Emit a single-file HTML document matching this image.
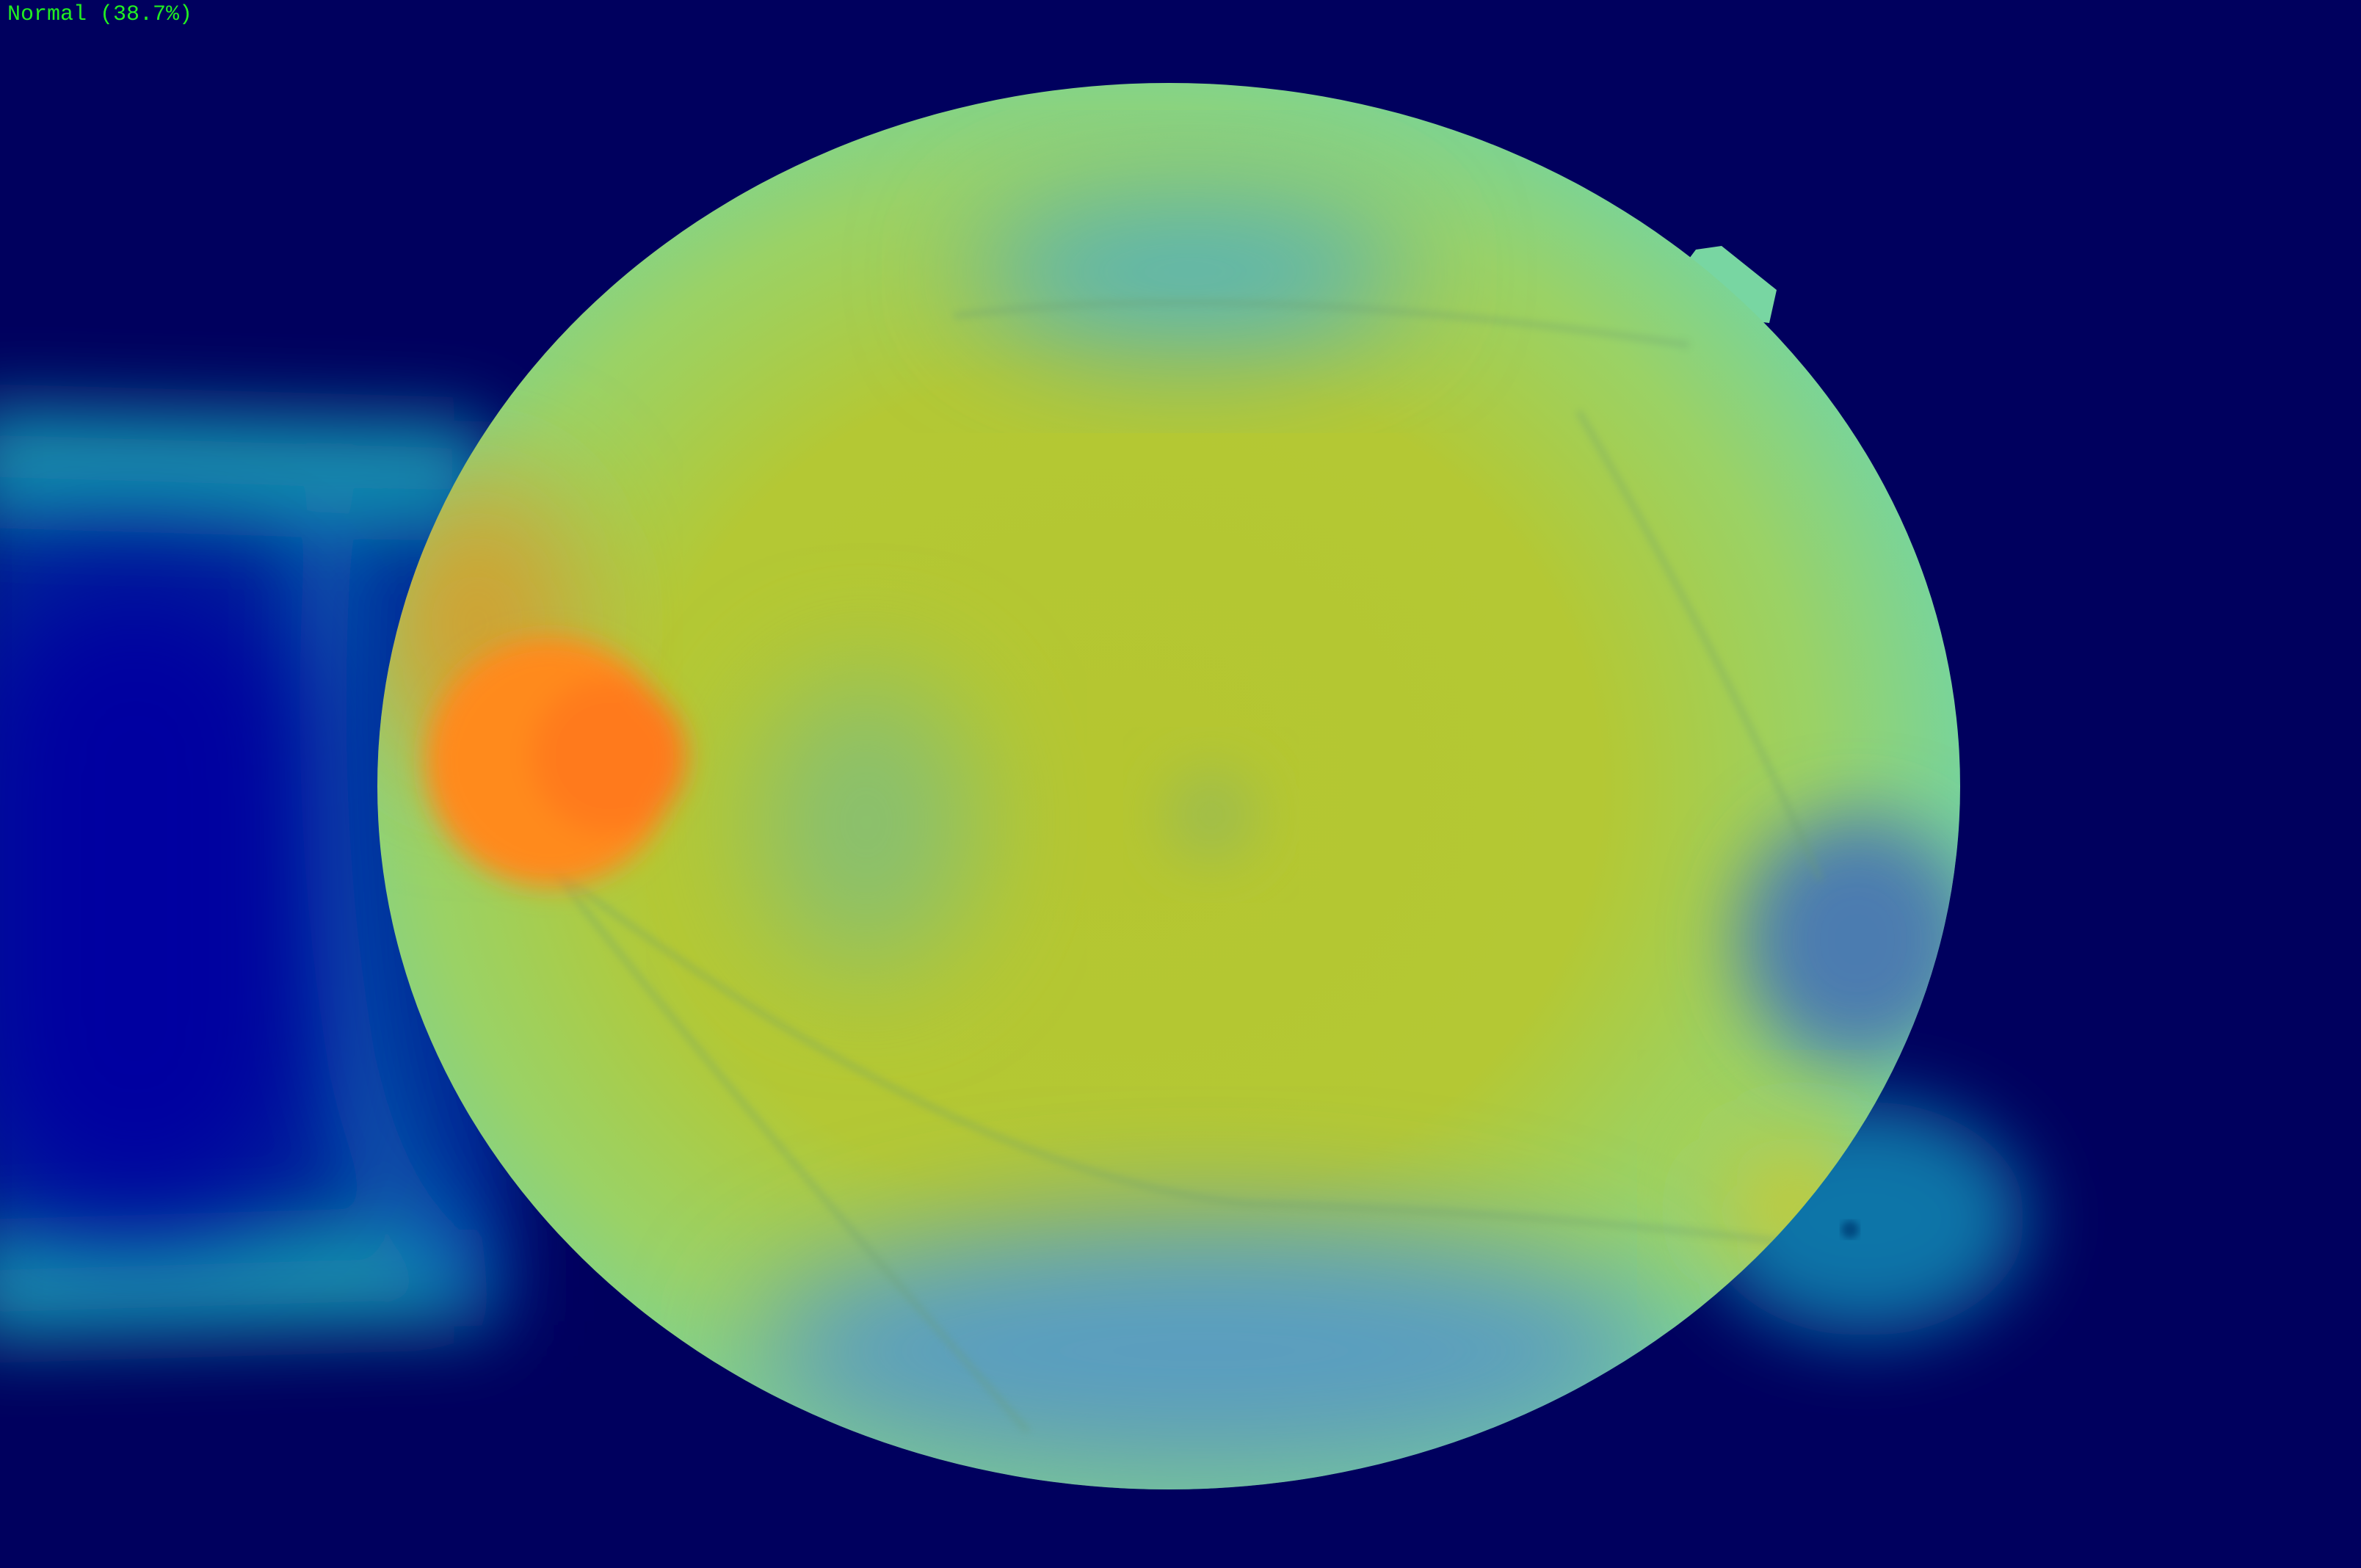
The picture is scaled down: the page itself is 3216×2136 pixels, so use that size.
<!DOCTYPE html>
<html><head><meta charset="utf-8"><style>
html,body{margin:0;padding:0;background:#00005e;}
#wrap{position:relative;width:3216px;height:2136px;overflow:hidden;}
#label{position:absolute;left:10px;top:3px;font-family:"Liberation Mono","DejaVu Sans Mono",monospace;font-size:30px;color:#22ee22;}
</style></head><body>
<div id="wrap">
<svg width="3216" height="2136" viewBox="0 0 3216 2136">
<defs>
<filter id="b80" x="-50%" y="-50%" width="200%" height="200%"><feGaussianBlur stdDeviation="80"/></filter>
<filter id="b50" x="-50%" y="-50%" width="200%" height="200%"><feGaussianBlur stdDeviation="50"/></filter>
<filter id="b40" x="-50%" y="-50%" width="200%" height="200%"><feGaussianBlur stdDeviation="40"/></filter>
<filter id="b20" x="-50%" y="-50%" width="200%" height="200%"><feGaussianBlur stdDeviation="18"/></filter>
<filter id="b6"><feGaussianBlur stdDeviation="5"/></filter>
<radialGradient id="fund" cx="0.47" cy="0.5" r="0.55">
<stop offset="0" stop-color="#b5c630"/>
<stop offset="0.55" stop-color="#b4c834"/>
<stop offset="0.8" stop-color="#9ad266"/>
<stop offset="1" stop-color="#72d4a4"/>
</radialGradient>
<clipPath id="eye"><ellipse cx="1592" cy="1071" rx="1078" ry="958"/></clipPath>
</defs>
<rect width="3216" height="2136" fill="#00005e"/>
<g filter="url(#b50)">
<path d="M -50 600 L 700 600 L 700 1800 L -50 1800 Z" fill="#062a98"/>
<path d="M -50 620 L 650 640 M -50 1760 L 650 1740" stroke="#1590b0" stroke-width="130" fill="none"/>
<path d="M 450 700 Q 420 1100 480 1450 Q 530 1680 650 1740" stroke="#0a5ab0" stroke-width="80" fill="none"/>
</g>
<rect x="-50" y="780" width="470" height="880" rx="220" fill="#0000a0" filter="url(#b80)"/>
<ellipse cx="2540" cy="1660" rx="220" ry="160" fill="#0f74a8" filter="url(#b50)"/>
<circle cx="2520" cy="1675" r="12" fill="#064a80" filter="url(#b6)"/>
<g>
<path d="M 2280 380 L 2310 340 L 2345 335 L 2420 395 L 2410 440 L 2330 430 Z" fill="#78d6a2"/>
<ellipse cx="1592" cy="1071" rx="1078" ry="958" fill="url(#fund)"/>
<g clip-path="url(#eye)">
<ellipse cx="1620" cy="370" rx="300" ry="110" fill="#58b4b6" filter="url(#b80)"/>
<ellipse cx="1640" cy="1840" rx="620" ry="180" fill="#5a9ec0" filter="url(#b80)"/>
<ellipse cx="2530" cy="1280" rx="160" ry="170" fill="#4c7cb0" filter="url(#b50)"/>
<ellipse cx="1180" cy="1120" rx="150" ry="200" fill="#88c070" filter="url(#b80)"/>
<ellipse cx="650" cy="850" rx="140" ry="200" fill="#d2a030" filter="url(#b80)"/>
<ellipse cx="2450" cy="1650" rx="110" ry="110" fill="#d8c820" filter="url(#b80)"/>
<ellipse cx="1650" cy="1110" rx="60" ry="60" fill="#9cbc50" filter="url(#b40)"/>
<g stroke="#6a9c70" stroke-width="9" fill="none" opacity="0.3" filter="url(#b6)">
<path d="M 750 1180 Q 1000 1500 1400 1950"/>
<path d="M 750 1180 Q 1300 1600 1700 1640 Q 2100 1650 2500 1700"/>
<path d="M 1300 430 Q 1700 380 2300 470"/>
<path d="M 2150 560 Q 2350 900 2480 1200"/>
</g>
</g>
<g filter="url(#b20)">
<circle cx="750" cy="1038" r="170" fill="#ff8a1e"/>
<circle cx="830" cy="1030" r="105" fill="#ff7a1a"/>
</g>
</g>
</svg>
<div id="label">Normal (38.7%)</div>
</div>
</body></html>
